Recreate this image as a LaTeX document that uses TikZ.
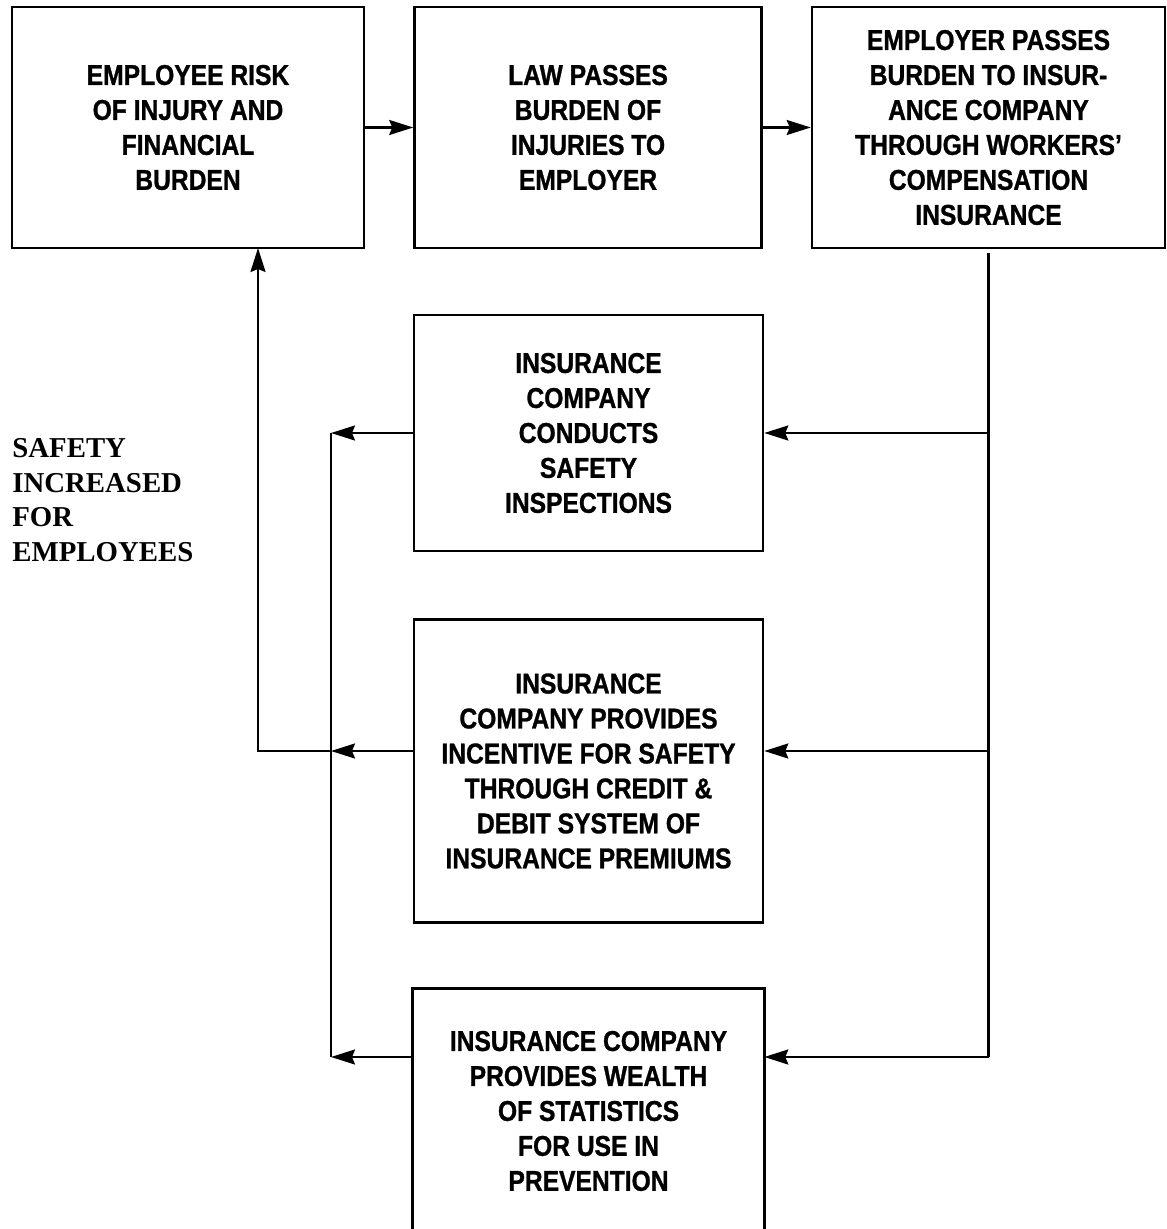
\documentclass[tikz,border=0pt]{standalone}
\usepackage{fontspec}
\setmainfont{Liberation Serif}
\newfontfamily\condfont[FakeStretch=0.86,BoldFeatures={FakeBold=1}]{Liberation Sans}
\usepackage{tikz}
\usetikzlibrary{arrows.meta,positioning,calc}

\begin{document}
\begin{tikzpicture}[x=0.02cm, y=-0.02cm,
    >={Stealth[length=4.8mm,width=3mm,inset=0.6mm]},
    flow/.style={line width=1.3pt},
    box/.style={draw, line width=1.5pt, inner sep=0pt, align=center,
      font=\condfont\bfseries\fontsize{16.3}{19.9}\selectfont},
    note/.style={align=left, inner sep=0pt,
      font=\bfseries\fontsize{16.4}{19.6}\selectfont}]
  \useasboundingbox (0,0) rectangle (1166,1229);

  % Top row
  \node[box, minimum width=7.04cm, minimum height=4.82cm] (risk) at (188,127.5)
    {EMPLOYEE RISK\\OF INJURY AND\\FINANCIAL\\BURDEN};
  \node[box, minimum width=6.94cm, minimum height=4.82cm] (law) at (588,127.5)
    {LAW PASSES\\BURDEN OF\\INJURIES TO\\EMPLOYER};
  \node[box, minimum width=7.06cm, minimum height=4.82cm] (employer) at (988.5,127.5)
    {EMPLOYER PASSES\\BURDEN TO INSUR-\\ANCE COMPANY\\THROUGH WORKERS’\\COMPENSATION\\INSURANCE};

  % Insurance company boxes
  \node[box, minimum width=6.98cm, minimum height=4.72cm] (inspect) at (588.5,433)
    {INSURANCE\\COMPANY\\CONDUCTS\\SAFETY\\INSPECTIONS};
  \node[box, minimum width=6.98cm, minimum height=6.06cm] (credit) at (588.5,771)
    {INSURANCE\\COMPANY PROVIDES\\INCENTIVE FOR SAFETY\\THROUGH CREDIT \&\\DEBIT SYSTEM OF\\INSURANCE PREMIUMS};
  \node[box, draw=none, minimum width=6.98cm, minimum height=4.84cm] (stats) at (588.5,1111)
    {INSURANCE COMPANY\\PROVIDES WEALTH\\OF STATISTICS\\FOR USE IN\\PREVENTION};
  \draw[line width=1.5pt] (stats.south west) -- (stats.north west) -- (stats.north east) -- (stats.south east);

  % Side label
  \node[note, anchor=west] (safety) at (12,500) {SAFETY\\INCREASED\\FOR\\EMPLOYEES};

  % Rails
  \coordinate (rInspect) at (988.5,433);
  \coordinate (rCredit) at (988.5,751);
  \coordinate (rStats) at (988.5,1057);
  \coordinate (lInspect) at (331,433);
  \coordinate (lCredit) at (331,751);
  \coordinate (lStats) at (331,1057);
  \coordinate (riskIn) at (258,248);

  % Arrows
  \draw[flow,->] (risk) -- (law);
  \draw[flow,->] (law) -- (employer);
  \draw[flow] ([yshift=-0.08cm]employer.south) -- (rStats);
  \draw[flow,->] (rInspect) -- (rInspect -| inspect.east);
  \draw[flow,->] (rCredit) -- (rCredit -| credit.east);
  \draw[flow,->] (rStats) -- (rStats -| stats.east);
  \draw[flow,->] (lInspect -| inspect.west) -- (lInspect);
  \draw[flow,->] (lCredit -| credit.west) -- (lCredit);
  \draw[flow,->] (lStats -| stats.west) -- (lStats);
  \draw[flow] (lInspect) -- (lStats);
  \draw[flow,->] (lCredit) -| (riskIn);
\end{tikzpicture}
\end{document}
